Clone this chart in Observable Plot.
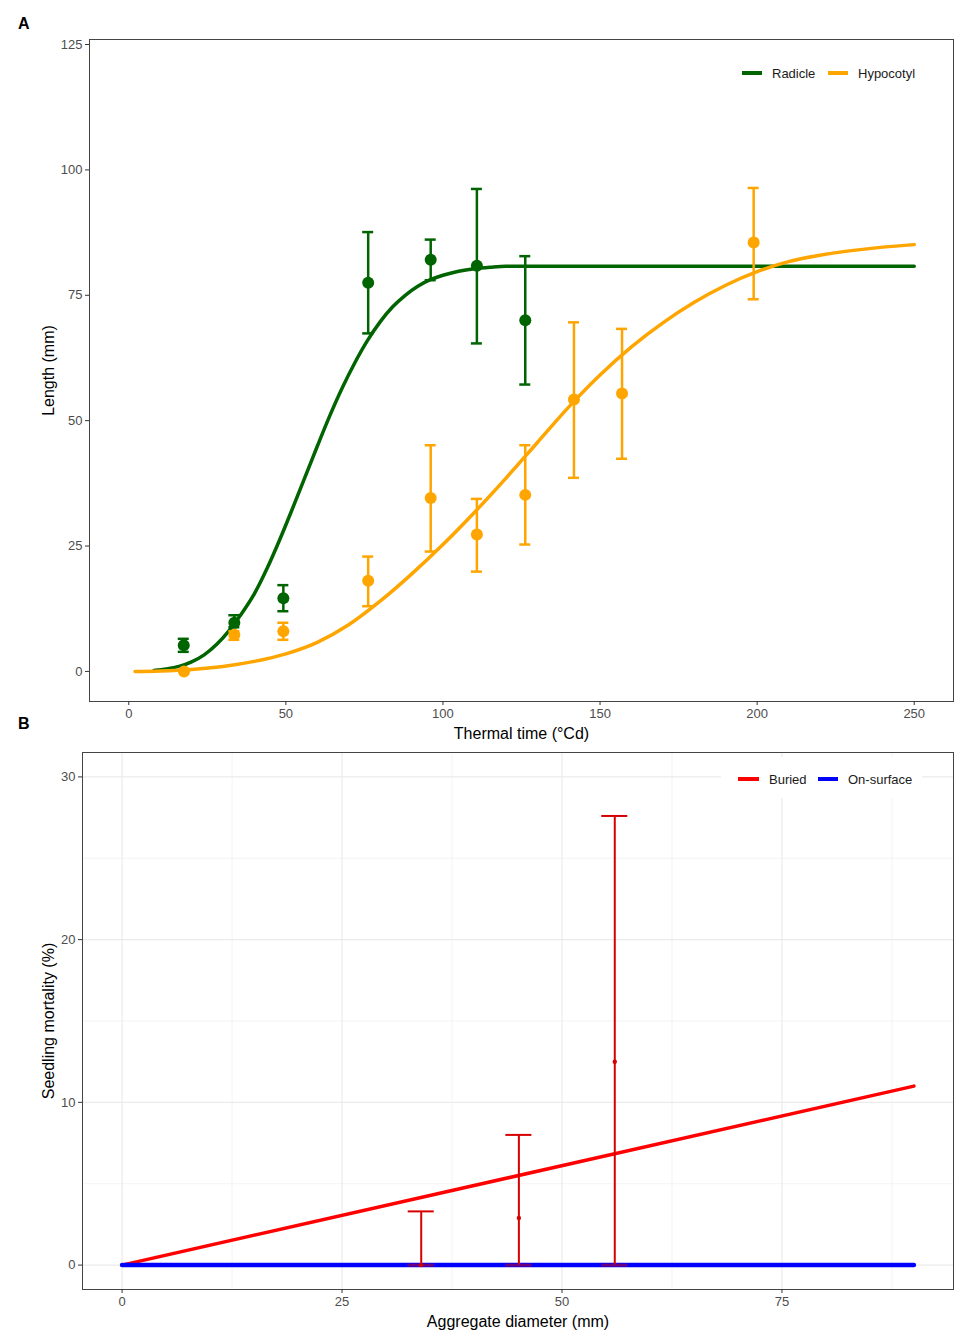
<!DOCTYPE html>
<html><head><meta charset="utf-8">
<script src="https://cdn.jsdelivr.net/npm/d3@7"></script>
<script src="https://cdn.jsdelivr.net/npm/@observablehq/plot@0.6"></script>
<style>
body{margin:0;background:#fff;font-family:"Liberation Sans",Arial,sans-serif;}
#wrap{position:relative;width:956px;height:1339px;overflow:hidden;}
.panel{position:absolute;left:0;}
.panel svg{display:block;}
.lab{position:absolute;font-weight:bold;font-size:16px;line-height:1;color:#000;}
.key{position:absolute;height:4px;width:20px;}
.ltxt{position:absolute;font-size:13px;line-height:1;color:#1a1a1a;white-space:nowrap;}
.lbox{position:absolute;background:#fff;}
</style></head>
<body>
<div id="wrap">
  <div id="pa" class="panel" style="top:0"></div>
  <div id="pb" class="panel" style="top:745px"></div>
  <div class="lab" style="left:18px;top:16px">A</div>
  <div class="lab" style="left:18px;top:716px">B</div>
  <div class="key" style="left:742px;top:71px;background:#006400"></div>
  <div class="ltxt" style="left:772px;top:67px">Radicle</div>
  <div class="key" style="left:828px;top:71px;background:#FFA500"></div>
  <div class="ltxt" style="left:858px;top:67px">Hypocotyl</div>
  <div class="lbox" style="left:721px;top:757px;width:201px;height:41px"></div>
  <div class="key" style="left:738px;top:777px;width:21px;background:#ff0000"></div>
  <div class="ltxt" style="left:769px;top:773px">Buried</div>
  <div class="key" style="left:818px;top:777px;background:#0000ff"></div>
  <div class="ltxt" style="left:848px;top:773px">On-surface</div>
</div>
<script>
// ---------- Panel A data ----------
const xTicksA = [0, 50, 100, 150, 200, 250];
const yTicksA = [0, 25, 50, 75, 100, 125];

const radicleTT   = [17.5, 33.6, 49.2, 76.2, 96.1, 110.8, 126.2];
const radicleMean = [5.2, 9.7, 14.6, 77.5, 82.1, 80.9, 70.0];
const radicleLo   = [3.9, 8.8, 12.0, 67.4, 78.0, 65.4, 57.2];
const radicleHi   = [6.5, 11.2, 17.2, 87.6, 86.1, 96.2, 82.8];

const hypTT   = [17.6, 33.6, 49.2, 76.2, 96.1, 110.8, 126.2, 141.7, 157.0, 198.9];
const hypMean = [0.0, 7.3, 8.0, 18.1, 34.6, 27.3, 35.2, 54.2, 55.4, 85.5];
const hypLo   = [0.0, 6.3, 6.3, 13.0, 23.9, 19.9, 25.3, 38.6, 42.4, 74.2];
const hypHi   = [0.0, 8.0, 9.7, 22.9, 45.1, 34.4, 45.1, 69.6, 68.3, 96.4];

const radCurveX = [8, 12, 16, 20, 24, 28, 32, 36, 40, 44, 48, 52, 56, 60, 64, 68, 72, 76, 80, 84, 88, 92, 96, 100, 105, 110, 115, 120, 130, 150, 200, 250];
const radCurveY = [0.2, 0.5, 1.0, 1.9, 3.3, 5.4, 8.2, 11.6, 15.5, 20.5, 26.2, 32.3, 38.6, 44.9, 51.0, 56.6, 61.6, 66.0, 69.7, 72.7, 75.0, 76.8, 78.1, 79.0, 79.8, 80.3, 80.6, 80.8, 80.8, 80.8, 80.8, 80.8];

const hypCurveX = [2, 10, 20, 30, 40, 50, 60, 70, 80, 90, 100, 110, 120, 130, 140, 150, 160, 170, 180, 190, 200, 210, 220, 230, 240, 250];
const hypCurveY = [0, 0.1, 0.4, 1.0, 2.0, 3.5, 5.8, 9.3, 14.0, 19.4, 25.3, 31.7, 38.5, 45.6, 52.7, 59.1, 64.7, 69.5, 73.6, 77.0, 79.7, 81.7, 83.0, 83.9, 84.6, 85.1];

// ---------- Panel B data ----------
const xTicksB = [0, 25, 50, 75];
const xMinorB = [12.5, 37.5, 62.5, 87.5];
const yTicksB = [0, 10, 20, 30];
const yMinorB = [5, 15, 25];

const diameter = [34.0, 45.1, 56.0];
const mortMean = [0, 2.9, 12.5];
const mortLo   = [0, 0, 0];
const mortHi   = [3.3, 8.0, 27.6];

const fitX       = [0, 90];
const buriedFit  = [0, 11.0];
const surfaceFit = [0, 0];

// ---------- build ----------
const font = '"Liberation Sans", Arial, sans-serif';
const green = "#006400", orange = "#FFA500";
const zip = (xs, m, lo, hi) => xs.map((x, i) => ({x, m: m[i], lo: lo[i], hi: hi[i]}));
const radicle = zip(radicleTT, radicleMean, radicleLo, radicleHi);
const hyp = zip(hypTT, hypMean, hypLo, hypHi);
const radCurve = radCurveX.map((x, i) => ({x, y: radCurveY[i]}));
const hypCurve = hypCurveX.map((x, i) => ({x, y: hypCurveY[i]}));
const capA = 1.75;

function errMarks(data, color, cap, w) {
  return [
    Plot.ruleX(data, {x: "x", y1: "lo", y2: "hi", stroke: color, strokeWidth: w}),
    Plot.ruleY(data, {y: "hi", x1: d => d.x - cap, x2: d => d.x + cap, stroke: color, strokeWidth: w}),
    Plot.ruleY(data, {y: "lo", x1: d => d.x - cap, x2: d => d.x + cap, stroke: color, strokeWidth: w})
  ];
}

const plotA = Plot.plot({
  width: 956, height: 745,
  marginTop: 39, marginBottom: 44, marginLeft: 89, marginRight: 3,
  style: {fontFamily: font, fontSize: "13px", background: "white", overflow: "visible"},
  x: {domain: [-12.5, 262.5]},
  y: {domain: [-6, 126]},
  marks: [
    Plot.frame({stroke: "#444", strokeWidth: 1}),
    Plot.axisX({ticks: xTicksA, tickSize: 4, tickPadding: 3, label: null, stroke: "#333", fill: "#4d4d4d", fontSize: 13}),
    Plot.axisY({ticks: yTicksA, tickSize: 4, tickPadding: 3, label: null, stroke: "#333", fill: "#4d4d4d", fontSize: 13}),
    Plot.line(radCurve, {x: "x", y: "y", stroke: green, strokeWidth: 3.5, curve: "monotone-x"}),
    Plot.line(hypCurve, {x: "x", y: "y", stroke: orange, strokeWidth: 3.5, curve: "monotone-x"}),
    ...errMarks(radicle, green, capA, 2.5),
    ...errMarks(hyp, orange, capA, 2.5),
    Plot.dot(radicle, {x: "x", y: "m", r: 6, fill: green}),
    Plot.dot(hyp, {x: "x", y: "m", r: 6, fill: orange}),
    Plot.text(["Thermal time (°Cd)"], {frameAnchor: "bottom", dy: 32, textAnchor: "middle", lineAnchor: "middle", fontSize: 16, fill: "black"}),
    Plot.text(["Length (mm)"], {frameAnchor: "left", dx: -41, rotate: -90, textAnchor: "middle", lineAnchor: "middle", fontSize: 16, fill: "black"})
  ]
});
document.getElementById("pa").append(plotA);

const mort = zip(diameter, mortMean, mortLo, mortHi);
const buried = fitX.map((x, i) => ({x, y: buriedFit[i]}));
const surface = fitX.map((x, i) => ({x, y: surfaceFit[i]}));
const capB = 1.48;
const errRed = "#d60000";

const plotB = Plot.plot({
  width: 956, height: 594,
  marginTop: 7, marginBottom: 50, marginLeft: 82, marginRight: 3,
  style: {fontFamily: font, fontSize: "13px", background: "white", overflow: "visible"},
  x: {domain: [-4.5, 94.5]},
  y: {domain: [-1.5, 31.5]},
  marks: [
    Plot.gridX({ticks: xMinorB, stroke: "#ebebeb", strokeOpacity: 1, strokeWidth: 0.6}),
    Plot.gridY({ticks: yMinorB, stroke: "#ebebeb", strokeOpacity: 1, strokeWidth: 0.6}),
    Plot.gridX({ticks: xTicksB, stroke: "#ebebeb", strokeOpacity: 1, strokeWidth: 1.2}),
    Plot.gridY({ticks: yTicksB, stroke: "#ebebeb", strokeOpacity: 1, strokeWidth: 1.2}),
    Plot.frame({stroke: "#444", strokeWidth: 1}),
    Plot.axisX({ticks: xTicksB, tickSize: 4, tickPadding: 3, label: null, stroke: "#333", fill: "#4d4d4d", fontSize: 13}),
    Plot.axisY({ticks: yTicksB, tickSize: 4, tickPadding: 3, label: null, stroke: "#333", fill: "#4d4d4d", fontSize: 13}),
    Plot.line(buried, {x: "x", y: "y", stroke: "#ff0000", strokeWidth: 3.5}),
    Plot.line(surface, {x: "x", y: "y", stroke: "#0000ff", strokeWidth: 4.5}),
    Plot.ruleX(mort, {x: "x", y1: "lo", y2: "hi", stroke: errRed, strokeWidth: 2}),
    Plot.ruleY(mort, {y: "hi", x1: d => d.x - capB, x2: d => d.x + capB, stroke: errRed, strokeWidth: 2}),
    Plot.ruleY(mort, {y: "lo", x1: d => d.x - capB, x2: d => d.x + capB, stroke: errRed, strokeWidth: 3, strokeOpacity: 0.5}),
    Plot.dot(mort, {x: "x", y: "m", r: 2.2, fill: errRed}),
    Plot.text(["Aggregate diameter (mm)"], {frameAnchor: "bottom", dy: 32, textAnchor: "middle", lineAnchor: "middle", fontSize: 16, fill: "black"}),
    Plot.text(["Seedling mortality (%)"], {frameAnchor: "left", dx: -34, rotate: -90, textAnchor: "middle", lineAnchor: "middle", fontSize: 16, fill: "black"})
  ]
});
document.getElementById("pb").append(plotB);
</script>
</body></html>
